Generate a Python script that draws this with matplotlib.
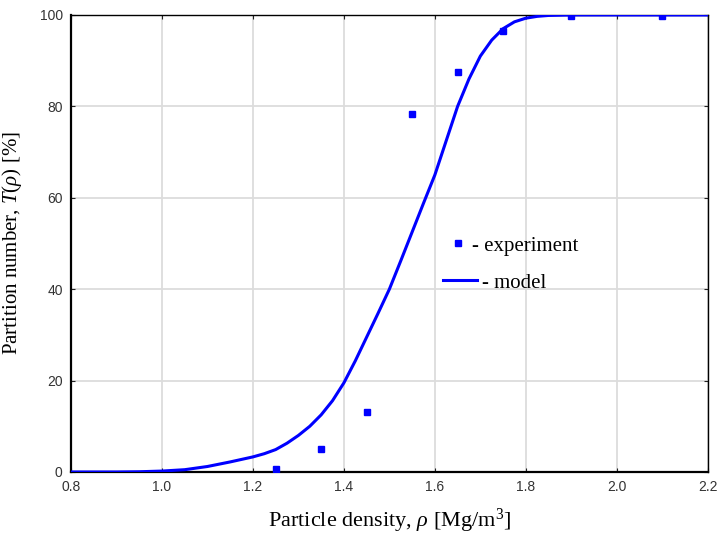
import numpy as np
import matplotlib
matplotlib.use("Agg")
import matplotlib.pyplot as plt

plt.rcParams['mathtext.fontset'] = 'custom'
plt.rcParams['mathtext.rm'] = 'Liberation Serif'
plt.rcParams['mathtext.it'] = 'Liberation Serif:italic'

# experiment points
rho_exp = [1.25, 1.35, 1.45, 1.55, 1.65, 1.75, 1.90, 2.10]
T_exp = [0.7, 5.0, 13.1, 78.4, 87.5, 96.5, 99.8, 99.8]

# model curve
rho_mod = [0.80, 0.90, 0.95, 1.00, 1.05, 1.10, 1.15, 1.200, 1.225, 1.250,
           1.275, 1.300, 1.325, 1.350, 1.375, 1.400, 1.425, 1.450, 1.475, 1.500,
           1.525, 1.550, 1.575, 1.600, 1.625, 1.650, 1.675, 1.700, 1.725, 1.750,
           1.775, 1.800, 1.825, 1.850, 1.90, 2.00, 2.10, 2.20]
T_mod = [0.0, 0.0, 0.05, 0.2, 0.5, 1.2, 2.2, 3.3, 4.0, 4.9,
         6.3, 8.0, 10.0, 12.5, 15.6, 19.5, 24.3, 29.5, 34.7, 40.0,
         46.2, 52.5, 58.8, 65.0, 72.5, 80.0, 86.0, 91.0, 94.5, 97.0,
         98.5, 99.3, 99.7, 99.9, 100.0, 100.0, 100.0, 100.0]

xticks = [0.8, 1.0, 1.2, 1.4, 1.6, 1.8, 2.0, 2.2]
yticks = [0, 20, 40, 60, 80, 100]

fig = plt.figure(figsize=(7.2, 5.35), dpi=100)
ax = fig.add_axes([0.0986, 0.1178, 0.8844, 0.8542])

line, = ax.plot(rho_mod, T_mod, color='#0000ff', lw=2.2, zorder=3)
pts, = ax.plot(rho_exp, T_exp, 's', color='#0000ff', ms=4.5, ls='none', zorder=4)

ax.set_xlim(0.8, 2.2)
ax.set_ylim(0, 100)
ax.set_xticks(xticks)
ax.set_yticks(yticks)
ax.set_xticklabels([f'{v:.1f}' for v in xticks], family='Liberation Sans',
                   fontsize=10, color='#333333')
ax.set_yticklabels([str(v) for v in yticks], family='Liberation Sans',
                   fontsize=10, color='#333333')
ax.tick_params(direction='in', length=3, top=True, right=True, color='#222222')
ax.tick_params(axis='x', pad=6)
ax.tick_params(axis='y', pad=6)
ax.grid(True, color='#dcdcdc', lw=1.3)
ax.set_axisbelow(True)

for s in ['left', 'bottom']:
    ax.spines[s].set_linewidth(1.6)
for s in ['top', 'right']:
    ax.spines[s].set_linewidth(1.0)

ax.set_xlabel(r'Particle density, $\rho$ [Mg/m$^3$]', family='Liberation Serif',
              fontsize=16, labelpad=9)
ax.set_ylabel(r'Partition number, $\mathit{T}(\rho)$ [%]', family='Liberation Serif',
              fontsize=15, labelpad=11)

leg1 = ax.legend([pts], ['- experiment'], loc='center left',
                 bbox_to_anchor=(0.595, 0.495), frameon=False,
                 handlelength=0.8, handletextpad=0.25, borderpad=0, borderaxespad=0,
                 prop={'family': 'Liberation Serif', 'size': 15})
ax.add_artist(leg1)
ax.legend([line], ['- model'], loc='center left',
          bbox_to_anchor=(0.584, 0.414), frameon=False,
          handlelength=1.65, handletextpad=0.25, borderpad=0, borderaxespad=0,
          prop={'family': 'Liberation Serif', 'size': 15})

fig.savefig('out.png', dpi=100)
